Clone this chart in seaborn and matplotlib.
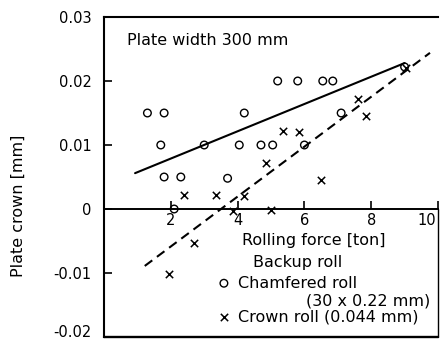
import matplotlib
matplotlib.use("Agg")
import matplotlib.pyplot as plt
import matplotlib.transforms as mtransforms
import seaborn as sns
import numpy as np

# ---- data ----
chamfered_x = [1.3, 1.8, 1.7, 3.0, 5.2, 5.8, 6.55, 6.85, 4.2, 4.05, 4.7, 5.05, 6.0, 7.1,
               1.8, 2.3, 2.1, 3.7, 9.0]
chamfered_y = [0.015, 0.015, 0.010, 0.010, 0.020, 0.020, 0.020, 0.020, 0.015, 0.010, 0.010,
               0.010, 0.010, 0.015, 0.005, 0.005, 0.0, 0.0048, 0.0222]
crown_x = [5.35, 5.85, 4.85, 7.6, 7.85, 9.05, 2.4, 3.35, 4.2, 3.85, 5.0, 6.5, 2.7, 1.95]
crown_y = [0.0122, 0.012, 0.0072, 0.0172, 0.0145, 0.022, 0.0022, 0.0022, 0.002, -0.0003,
           -0.0002, 0.0045, -0.0053, -0.0102]
fit_chamfered_x = [0.93, 9.0]
fit_chamfered_y = [0.0056, 0.0228]
fit_crown_x = [1.22, 9.76]
fit_crown_y = [-0.0089, 0.0244]
x_ticks = [2, 4, 6, 8, 10]
y_ticks = [-0.02, -0.01, 0.0, 0.01, 0.02, 0.03]
y_tick_labels = ["-0.02", "-0.01", "0", "0.01", "0.02", "0.03"]

sns.set_style("white")
plt.rcParams["font.family"] = ["DejaVu Sans"]
plt.rcParams["text.color"] = "black"
plt.rcParams["xtick.color"] = "black"
plt.rcParams["ytick.color"] = "black"
plt.rcParams["axes.labelcolor"] = "black"

TXT = 11.5
TICK = 10.5

fig = plt.figure(figsize=(4.4, 3.4), dpi=100)
ax = fig.add_axes([104 / 440, 3 / 340, 334 / 440, 320 / 340])

sns.scatterplot(x=chamfered_x, y=chamfered_y, marker="o", s=30, facecolors="none",
                edgecolor="black", linewidth=1.0, ax=ax, zorder=3)
sns.scatterplot(x=crown_x, y=crown_y, marker="x", s=28, color="black",
                linewidth=1.1, ax=ax, zorder=3)
sns.lineplot(x=fit_chamfered_x, y=fit_chamfered_y, color="black", linewidth=1.5, ax=ax)
ax.plot(fit_crown_x, fit_crown_y, color="black", linewidth=1.5, dashes=(4.5, 2.8))

ax.set_xlim(0, 10)
ax.set_ylim(-0.02, 0.03)

# frame: left, top, bottom; x axis on the zero line
for s in ["left", "top"]:
    ax.spines[s].set_visible(True)
    ax.spines[s].set_color("black")
    ax.spines[s].set_linewidth(1.5)
ax.spines["right"].set_visible(False)
ax.spines["bottom"].set_position(("data", 0))
ax.spines["bottom"].set_color("black")
ax.spines["bottom"].set_linewidth(1.4)
ax.axhline(-0.02, color="black", linewidth=1.7, clip_on=False)
ax.axvline(10, ymin=0, ymax=0.4, color="black", linewidth=1.0, clip_on=False)

ax.set_xticks(x_ticks)
ax.set_xticklabels([str(t) for t in x_ticks])
ax.set_yticks(y_ticks)
ax.set_yticklabels(y_tick_labels)
ax.tick_params(axis="x", direction="in", length=6, width=1.2, labelsize=TICK, pad=3,
               bottom=True, colors="black")
ax.tick_params(axis="y", direction="in", length=6, width=1.2, labelsize=TICK, pad=9,
               left=True, colors="black")
ax.set_xlabel("")
ax.set_ylabel("")

# keep the edge labels inside the figure, as in the reference
xl = ax.get_xticklabels()
xl[-1].set_horizontalalignment("right")
xl[-1].set_transform(xl[-1].get_transform() +
                     mtransforms.ScaledTranslation(-2 / 100, 0, fig.dpi_scale_trans))
yl = ax.get_yticklabels()
yl[0].set_transform(yl[0].get_transform() +
                    mtransforms.ScaledTranslation(0, 6 / 100, fig.dpi_scale_trans))

fig.text(18 / 440, 1 - 206 / 340, "Plate crown [mm]", rotation=90, ha="center",
         va="center", fontsize=TXT)

ax.text(0.69, 0.0264, "Plate width 300 mm", ha="left", va="center", fontsize=TXT)
ax.text(6.27, -0.0050, "Rolling force [ton]", ha="center", va="center", fontsize=TXT)
ax.text(5.81, -0.0084, "Backup roll", ha="center", va="center", fontsize=TXT)
ax.scatter([3.59], [-0.0116], marker="o", s=30, facecolors="none", edgecolors="black",
           linewidths=1.0, clip_on=False)
ax.text(4.01, -0.0116, "Chamfered roll", ha="left", va="center", fontsize=TXT)
ax.text(9.76, -0.0144, "(30 x 0.22 mm)", ha="right", va="center", fontsize=TXT)
ax.scatter([3.59], [-0.0169], marker="x", s=28, color="black", linewidths=1.1,
           clip_on=False)
ax.text(4.01, -0.0169, "Crown roll (0.044 mm)", ha="left", va="center", fontsize=TXT)

fig.savefig("out.png", dpi=100)
